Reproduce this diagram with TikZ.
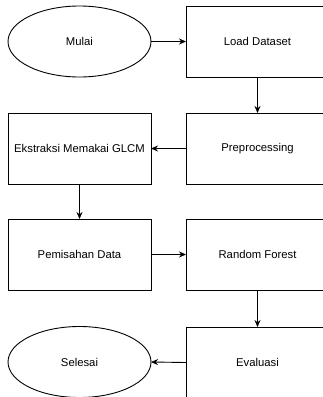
\documentclass[tikz,border=0pt]{standalone}
\usepackage{fontspec}
\setmainfont{Liberation Sans}
\usetikzlibrary{shapes.geometric, arrows.meta}

\begin{document}
\begin{tikzpicture}[x=1pt, y=-1pt,
        box/.style={draw, line width=0.9pt, rectangle, minimum width=143pt, minimum height=71pt, outer sep=0pt, font=\fontsize{11.3}{13}\selectfont},
        terminal/.style={draw, line width=0.9pt, ellipse, minimum width=143pt, minimum height=71pt, inner sep=0pt, outer sep=0pt, font=\fontsize{11.3}{13}\selectfont},
        flow/.style={-{Stealth[length=7pt, width=6pt]}, line width=0.9pt}]
        \clip (0,0) rectangle (323,397); % cropped frame
        \node[terminal] (mulai) at (79.5,41.5) {Mulai};
        \node[box] (load) at (257.5,41.5) {Load Dataset};
        \node[box] (prep) at (257.5,148.5) {Preprocessing};
        \node[box] (glcm) at (79.5,148.5) {Ekstraksi Memakai GLCM};
        \node[box] (split) at (79.5,254.5) {Pemisahan Data};
        \node[box] (rf) at (257.5,254.5) {Random Forest};
        \node[box] (eval) at (257.5,362.5) {Evaluasi};
        \node[terminal] (selesai) at (79.5,362) {Selesai};
        \draw[flow] (mulai) -- (load);
        \draw[flow] (load) -- (prep);
        \draw[flow] (prep) -- (glcm);
        \draw[flow] (glcm) -- (split);
        \draw[flow] (split) -- (rf);
        \draw[flow] (rf) -- (eval);
        \draw[flow] (eval.west) -- (selesai.east);
    \end{tikzpicture}
\end{document}
